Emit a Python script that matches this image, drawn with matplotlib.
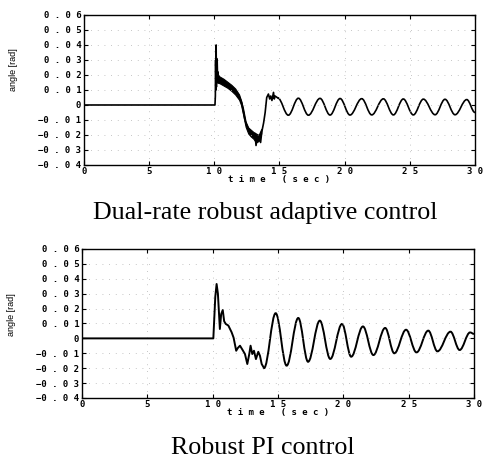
import matplotlib
matplotlib.use("Agg")
import matplotlib.pyplot as plt
from matplotlib.path import Path
from matplotlib.patches import PathPatch

# ---------------- data ----------------
x_ticks = [0, 5, 10, 15, 20, 25, 30]
y_ticks = [0.06, 0.05, 0.04, 0.03, 0.02, 0.01, 0.0, -0.01, -0.02, -0.03, -0.04]

# Top: dual-rate robust adaptive control (transient part)
top_t = [0.0, 10.05, 10.08, 10.10, 10.12, 10.14, 10.16, 10.18, 10.20, 10.22, 10.25,
         10.28, 10.32, 10.5, 10.8, 11.1, 11.45, 11.75, 11.97, 12.1, 12.2, 12.35,
         12.5, 12.65, 12.8, 12.95, 13.05, 13.12, 13.2, 13.3, 13.4, 13.46, 13.55,
         13.64, 13.78, 13.9, 14.02, 14.15, 14.25, 14.33, 14.42, 14.54, 14.6, 14.66, 14.87]
top_y = [0.0, 0.0, 0.006, 0.030, 0.010, 0.040, 0.012, 0.031, 0.016, 0.029, 0.018,
         0.022, 0.018, 0.017, 0.0155, 0.0135, 0.011, 0.008, 0.0045, 0.0015, -0.003, -0.010,
         -0.014, -0.016, -0.018, -0.019, -0.021, -0.019, -0.027, -0.021, -0.024, -0.020, -0.025,
         -0.018, -0.012, -0.005, 0.005, 0.0073, 0.004, 0.006, 0.003, 0.0084, 0.004, 0.006, 0.0047]
# Top: noisy band around the transient
top_band_t = [10.2, 10.4, 10.7, 11.0, 11.3, 11.6, 11.9, 12.05, 12.2, 12.4, 12.6, 12.8, 13.0, 13.2, 13.4, 13.6]
top_band_hi = [0.021, 0.019, 0.0175, 0.0155, 0.0135, 0.011, 0.007, 0.003, -0.002, -0.011, -0.015, -0.0165, -0.018, -0.019, -0.020, -0.016]
top_band_lo = [0.015, 0.0145, 0.013, 0.0115, 0.0095, 0.007, 0.0035, 0.0, -0.006, -0.0145, -0.019, -0.021, -0.0225, -0.025, -0.024, -0.019]
# Top: oscillation extrema
top_osc_t = [14.87, 15.68, 16.45, 17.22, 18.11, 18.88, 19.65, 20.41, 21.31, 22.08,
             22.97, 23.74, 24.50, 25.27, 26.04, 26.94, 27.70, 28.47, 29.37, 30.0]
top_osc_y = [0.0047, -0.0068, 0.0045, -0.0068, 0.0044, -0.0067, 0.0043, -0.0067, 0.0042, -0.0066,
             0.0041, -0.0066, 0.0040, -0.0066, 0.0039, -0.0065, 0.0038, -0.0065, 0.0036, -0.0050]

# Bottom: robust PI control (transient part)
bot_t = [0.0, 10.05, 10.2, 10.3, 10.4, 10.55, 10.65, 10.77, 10.88, 11.0, 11.2, 11.45,
         11.6, 11.8, 11.92, 12.09, 12.27, 12.47, 12.65, 12.8, 12.9, 13.03, 13.16, 13.31,
         13.49, 13.62, 13.75, 13.93]
bot_y = [0.0, 0.0, 0.028, 0.0365, 0.030, 0.0063, 0.0163, 0.019, 0.0115, 0.0097, 0.0086, 0.0041,
         0.0005, -0.0083, -0.0065, -0.0049, -0.0075, -0.0105, -0.0172, -0.0105, -0.0049, -0.0105, -0.0083, -0.0139,
         -0.0090, -0.0117, -0.0172, -0.0199]
# Bottom: oscillation extrema
bot_osc_t = [13.93, 14.82, 15.66, 16.55, 17.30, 18.20, 19.00, 19.90, 20.60, 21.50,
             22.30, 23.20, 23.90, 24.80, 25.60, 26.50, 27.20, 28.20, 28.90, 29.70, 30.0]
bot_osc_y = [-0.0199, 0.0169, -0.0183, 0.0137, -0.0157, 0.0119, -0.0138, 0.0097, -0.0123, 0.0080,
             -0.0112, 0.0070, -0.0100, 0.0058, -0.0094, 0.0052, -0.0087, 0.0045, -0.0078, 0.0040, 0.0030]

titles = ["Dual-rate robust adaptive control", "Robust PI control"]


def spaced(s):
    return " ".join(list(s))


def ylab(v):
    if abs(v) < 1e-12:
        return "0"
    s = "%.2f" % abs(v)
    out = spaced(s)
    if v < 0:
        out = "\u2212" + out
    return out


def curve_path(ts, ys, k=0.3642):
    verts = [(ts[0], ys[0])]
    codes = [Path.MOVETO]
    for i in range(len(ts) - 1):
        dt = ts[i + 1] - ts[i]
        verts += [(ts[i] + k * dt, ys[i]), (ts[i + 1] - k * dt, ys[i + 1]), (ts[i + 1], ys[i + 1])]
        codes += [Path.CURVE4] * 3
    return Path(verts, codes)


fig = plt.figure(figsize=(4.83, 4.61), dpi=100)
ax1 = fig.add_axes([0.1739, 0.6421, 0.8095, 0.3254])
ax2 = fig.add_axes([0.1698, 0.1367, 0.8116, 0.3232])

mono = "DejaVu Sans Mono"


def style(ax, ylab_y):
    ax.set_xlim(0, 30)
    ax.set_ylim(-0.04, 0.06)
    ax.set_xticks(x_ticks)
    ax.set_xticklabels([spaced(str(v)) for v in x_ticks], family=mono, fontsize=6.5, fontweight="bold")
    ax.set_yticks(y_ticks)
    ax.set_yticklabels([ylab(v) for v in y_ticks], family=mono, fontsize=6.5, fontweight="bold")
    ax.tick_params(direction="in", length=3, width=0.8, top=True, right=True, pad=2)
    ax.tick_params(axis="x", pad=1.5)
    for sp in ax.spines.values():
        sp.set_linewidth(1.0)
        sp.set_color("black")
    ax.grid(True, linestyle=(0, (1, 7)), linewidth=0.6, color="0.7")
    ax.set_xlabel(spaced("time") + "   " + spaced("(sec)"), family=mono, fontsize=6.5,
                  fontweight="bold", labelpad=-1)
    ax.set_ylabel("angle [rad]", family="Liberation Sans", fontsize=6.5)
    ax.yaxis.set_label_coords(-0.168, ylab_y)


style(ax1, 0.633)
style(ax2, 0.557)

# top
ax1.plot(top_t, top_y, color="black", lw=1.2)
ax1.fill_between(top_band_t, top_band_lo, top_band_hi, color="black", lw=0.8)
ax1.add_patch(PathPatch(curve_path(top_osc_t, top_osc_y), fill=False, edgecolor="black", lw=1.2,
                        transform=ax1.transData))
# bottom
ax2.plot(bot_t, bot_y, color="black", lw=1.4)
ax2.add_patch(PathPatch(curve_path(bot_osc_t, bot_osc_y), fill=False, edgecolor="black", lw=1.4,
                        transform=ax2.transData))

fig.text(265.5 / 483, 1 - 213 / 461, titles[0], family="Liberation Serif", fontsize=18.7,
         ha="center", va="center")
fig.text(263 / 483, 1 - 448 / 461, titles[1], family="Liberation Serif", fontsize=18.7,
         ha="center", va="center")

fig.savefig("out.png", dpi=100)
